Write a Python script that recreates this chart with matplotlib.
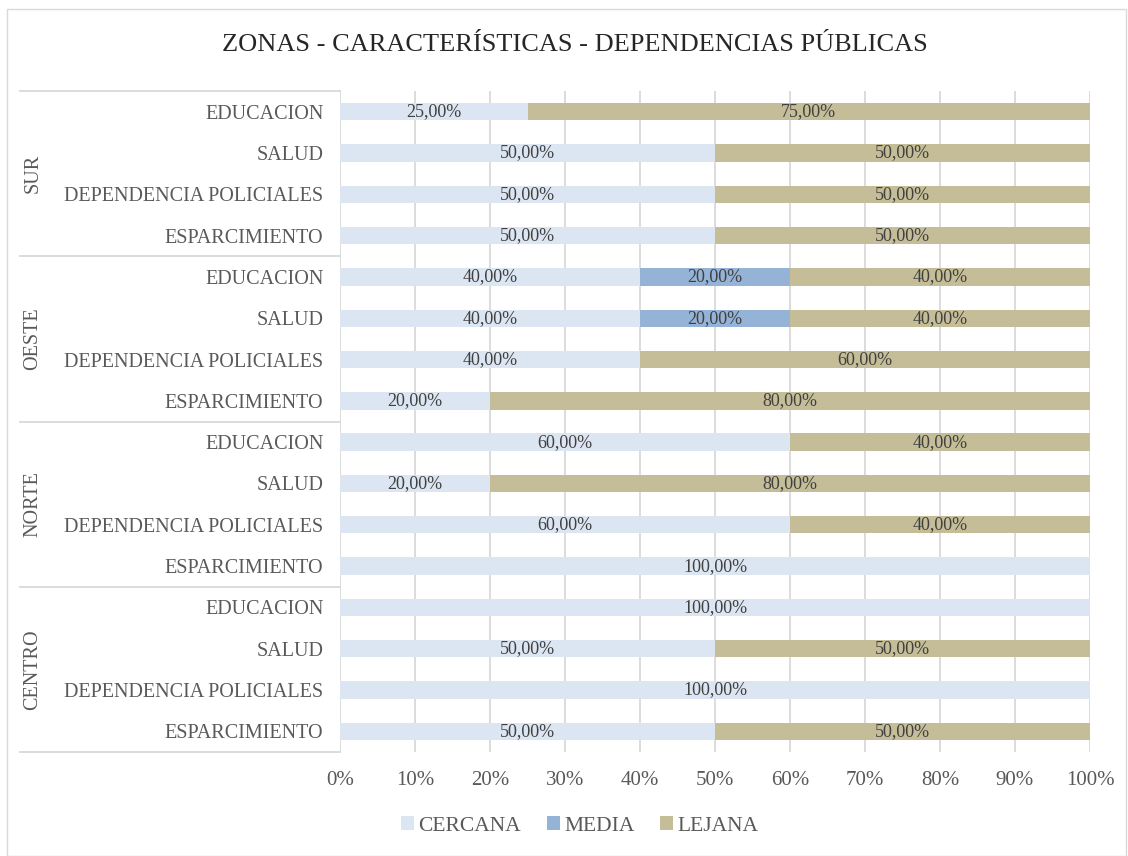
import numpy as np
import matplotlib.pyplot as plt
from matplotlib.patches import Rectangle
from matplotlib.transforms import blended_transform_factory

plt.rcParams['font.family'] = ['Liberation Serif', 'DejaVu Serif']

# datos (de abajo hacia arriba)
zonas = ['CENTRO', 'NORTE', 'OESTE', 'SUR']
items = ['ESPARCIMIENTO', 'DEPENDENCIA POLICIALES', 'SALUD', 'EDUCACION']
cercana = [50, 100, 50, 100,   100, 60, 20, 60,   20, 40, 40, 40,   50, 50, 50, 25]
media = [0, 0, 0, 0,           0, 0, 0, 0,        0, 0, 20, 20,     0, 0, 0, 0]
lejana = [50, 0, 50, 0,        0, 40, 80, 40,     80, 60, 40, 40,   50, 50, 50, 75]

series = [('CERCANA', cercana, '#DCE6F2'),
          ('MEDIA', media, '#95B3D7'),
          ('LEJANA', lejana, '#C4BD97')]
txt = '#595959'

fig = plt.figure(figsize=(11.28, 8.56), dpi=100)
ax = fig.add_axes([340/1128, 1 - 752/856, 750/1128, (752 - 91)/856])

n = len(cercana)
y = np.arange(n)
left = np.zeros(n)
for name, vals, col in series:
    vals = np.array(vals, dtype=float)
    ax.barh(y, vals, left=left, height=0.42, color=col, label=name, zorder=2)
    for yi, (l, v) in enumerate(zip(left, vals)):
        if v > 0:
            ax.text(l + v/2, yi, f'{v:.2f}%'.replace('.', ','), ha='center', va='center',
                    fontsize=13, color='#404040', zorder=3)
    left += vals

ax.set_xlim(0, 100)
ax.set_ylim(-0.5, n - 0.5)
ax.set_xticks(np.arange(0, 101, 10))
ax.set_xticklabels([f'{t}%' for t in range(0, 101, 10)], fontsize=15, color=txt)
ax.tick_params(axis='x', length=0, pad=14)
ax.set_yticks(y)
ax.set_yticklabels(items * 4, fontsize=14.5, color=txt)
ax.tick_params(axis='y', length=0, pad=12)
ax.grid(axis='x', color='#D9D9D9', linewidth=1.3, zorder=0)
for s in ['top', 'right', 'bottom', 'left']:
    ax.spines[s].set_visible(False)

# separadores y nombres de zona
tr = blended_transform_factory(ax.transAxes, ax.transData)
x0 = (20 - 340) / 750
for k in range(5):
    yy = k * 4 - 0.5
    ax.plot([x0, 0], [yy, yy], color='#D9D9D9', lw=1.3, transform=tr, clip_on=False)
for k, z in enumerate(zonas):
    ax.text((33 - 340) / 750, k * 4 + 1.5, z, rotation=90, ha='center', va='center',
            fontsize=14.5, color=txt, transform=tr)

fig.suptitle('ZONAS - CARACTERÍSTICAS - DEPENDENCIAS PÚBLICAS', x=575/1128, y=1 - 45/856,
             va='center', fontsize=19, color='#262626')

handles, labels = ax.get_legend_handles_labels()
fig.legend(handles, labels, loc='center', bbox_to_anchor=(580/1128, 1 - 826/856), ncol=3,
           frameon=False, fontsize=15.5, labelcolor=txt, handlelength=0.6, handleheight=0.6,
           handletextpad=0.2, columnspacing=1.2)

fig.patches.append(Rectangle((7/1128, 0), 1 - 9/1128, 1 - 9/856, transform=fig.transFigure,
                             fill=False, edgecolor='#D9D9D9', lw=1))

fig.savefig('out.png', dpi=100)
